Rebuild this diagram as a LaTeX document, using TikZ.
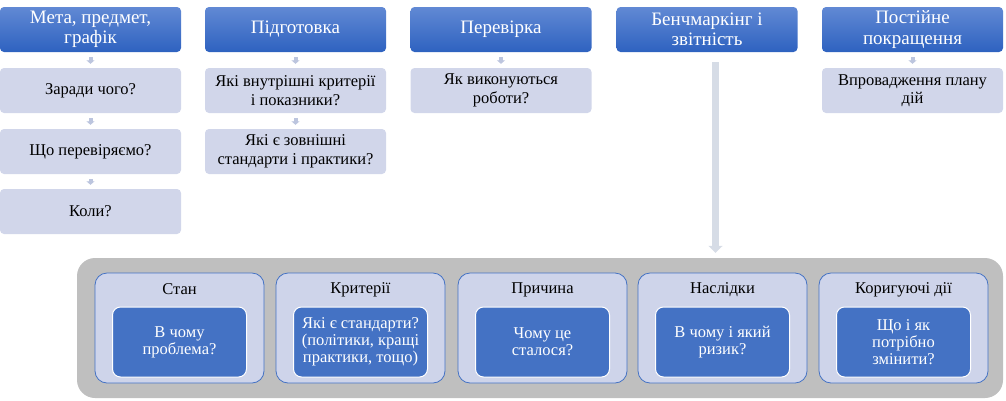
\documentclass[tikz,border=0pt]{standalone}
\usepackage{fontspec}
\setmainfont{Liberation Serif}
\usetikzlibrary{arrows.meta,calc}
\definecolor{hdrtop}{HTML}{6189D4}
\definecolor{hdrbot}{HTML}{2E62C0}
\definecolor{qfill}{HTML}{D1D6EA}
\definecolor{sarr}{HTML}{BCC5DE}
\definecolor{barr}{HTML}{D6DCE6}
\definecolor{graybg}{HTML}{BFBFBF}
\definecolor{ofill}{HTML}{CED4EA}
\definecolor{accent}{HTML}{4472C4}
\begin{document}
\begin{tikzpicture}[x=1pt,y=-1pt,
  hdr/.style={rectangle, rounded corners=4pt, minimum width=181pt, minimum height=45pt,
    top color=hdrtop, bottom color=hdrbot, text=white,
    font=\fontsize{19}{20.5}\selectfont, align=center, inner sep=0pt},
  qbox/.style={rectangle, rounded corners=4pt, minimum width=181pt, minimum height=45pt,
    fill=qfill, font=\fontsize{16.5}{18.5}\selectfont, align=center, inner sep=0pt},
  sarrow/.style={draw=sarr, line width=4pt, -{Triangle[width=8pt,length=3.5pt]},
    shorten <=5pt, shorten >=4pt},
  barrow/.style={draw=barr, line width=7pt, -{Triangle[width=14pt,length=7pt]}},
  obox/.style={rectangle, rounded corners=12pt, minimum width=169pt, minimum height=110pt,
    fill=ofill, draw=accent, line width=0.8pt, inner sep=0pt},
  ttl/.style={font=\fontsize{16.5}{18}\selectfont, inner sep=0pt},
  dbox/.style={rectangle, rounded corners=8pt, minimum width=134pt, minimum height=70pt,
    fill=accent, draw=white, line width=1pt, text=white,
    font=\fontsize{16.5}{17}\selectfont, align=center, inner sep=0pt}
]
\useasboundingbox (0,0) rectangle (1006,400);

% headers
\node (h1) [hdr] at (90.5,29.5) {Мета, предмет,\\графік};
\node (h2) [hdr] at (295.5,29.5) {Підготовка};
\node (h3) [hdr] at (501,29.5) {Перевірка};
\node (h4) [hdr] at (707,29.5) {Бенчмаркінг і\\звітність};
\node (h5) [hdr] at (912.5,29.5) {Постійне\\покращення};

% question boxes
\node (q11) [qbox] at (90.5,90.5) {Заради чого?};
\node (q12) [qbox] at (90.5,151.5) {Що перевіряємо?};
\node (q13) [qbox] at (90.5,211.5) {Коли?};
\node (q21) [qbox] at (295.5,90.5) {Які внутрішні критерії\\і показники?};
\node (q22) [qbox] at (295.5,151.5) {Які є зовнішні\\стандарти і практики?};
\node (q31) [qbox] at (501,90.5) {Як виконуються\\роботи?};
\node (q51) [qbox] at (912.5,90.5) {Впровадження плану\\дій};

% small arrows
\draw[sarrow] (h1) -- (q11);
\draw[sarrow] (q11) -- (q12);
\draw[sarrow] (q12) -- (q13);
\draw[sarrow] (h2) -- (q21);
\draw[sarrow] (q21) -- (q22);
\draw[sarrow] (h3) -- (q31);
\draw[sarrow] (h5) -- (q51);

% bottom container
\node (gray) [rectangle, fill=graybg, rounded corners=18pt, minimum width=926pt,
  minimum height=140pt, inner sep=0pt] at (540,328) {};

% big arrow
\coordinate (ba) at ($(h4.south)+(8.5,0)$);
\draw[barrow] ($(ba)+(0,10)$) -- ($(ba |- gray.north)+(0,-5)$);

% outer boxes
\node (o1) [obox] at (179.5,328) {};
\node (o2) [obox] at (360.5,328) {};
\node (o3) [obox] at (542.5,328) {};
\node (o4) [obox] at (722.5,328) {};
\node (o5) [obox] at (903.5,328) {};

\node (t1) [ttl] at ($(o1.north)+(0,17)$) {Стан};
\node (t2) [ttl] at ($(o2.north)+(0,17)$) {Критерії};
\node (t3) [ttl] at ($(o3.north)+(0,17)$) {Причина};
\node (t4) [ttl] at ($(o4.north)+(0,17)$) {Наслідки};
\node (t5) [ttl] at ($(o5.north)+(0,17)$) {Коригуючі дії};

\node (d1) [dbox] at ($(o1.center)+(0,14)$) {В чому\\проблема?};
\node (d2) [dbox] at ($(o2.center)+(0,14)$) {Які є стандарти?\\(політики, кращі\\практики, тощо)};
\node (d3) [dbox] at ($(o3.center)+(0,14)$) {Чому це\\сталося?};
\node (d4) [dbox] at ($(o4.center)+(0,14)$) {В чому і який\\ризик?};
\node (d5) [dbox] at ($(o5.center)+(0,14)$) {Що і як\\потрібно\\змінити?};
\end{tikzpicture}
\end{document}
